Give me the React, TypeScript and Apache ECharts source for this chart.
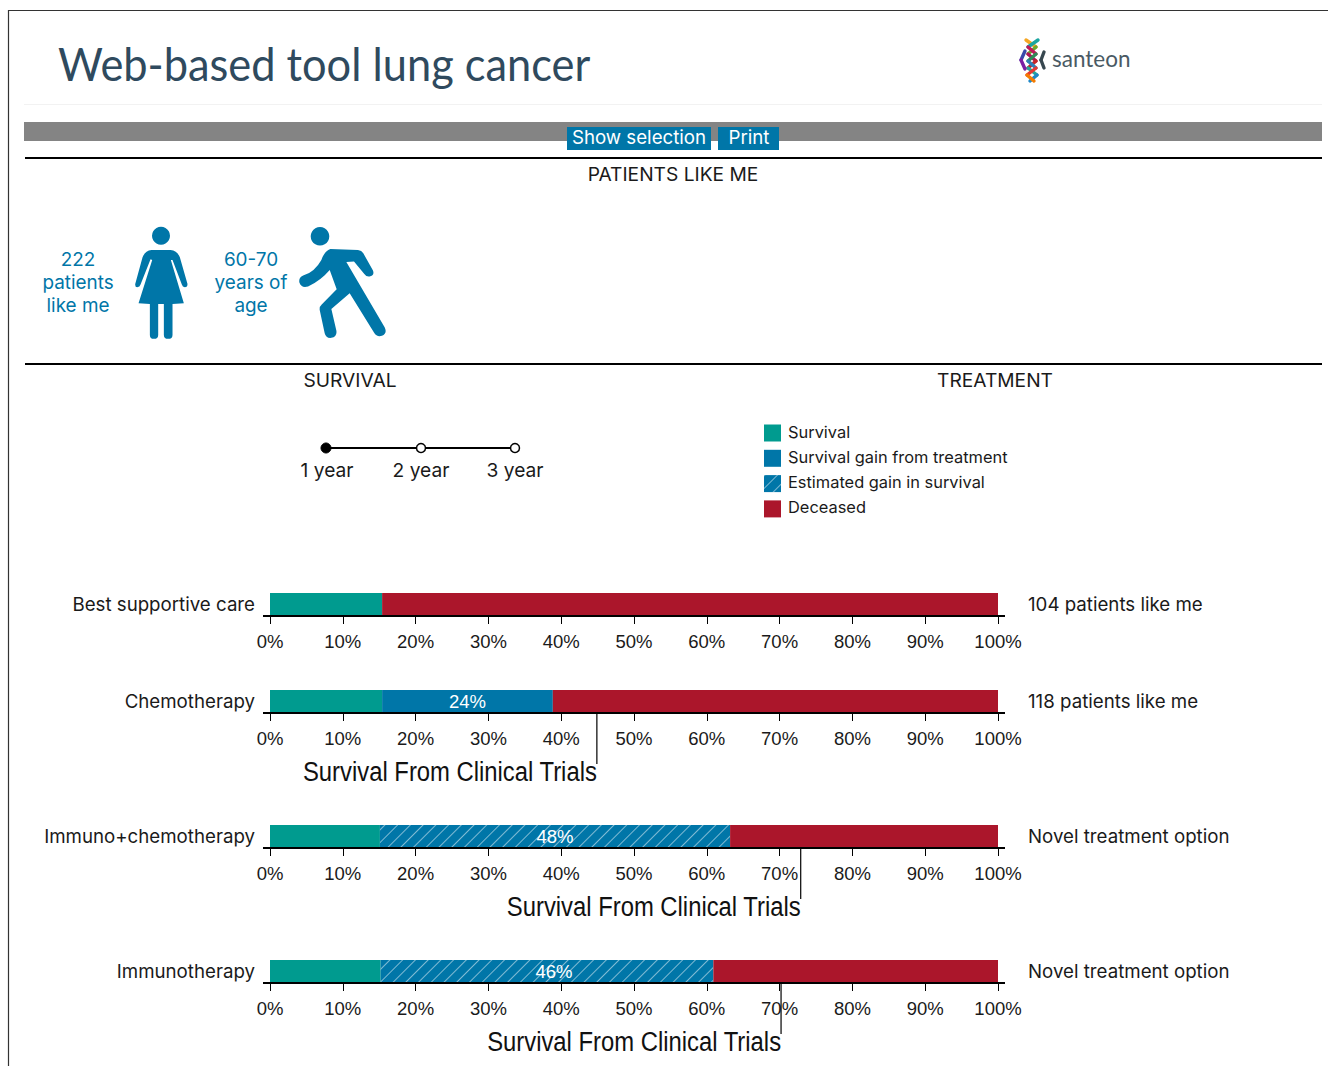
import React, { useEffect, useRef } from "react";
import * as echarts from "echarts";

const treatments = ["Best supportive care", "Chemotherapy", "Immuno+chemotherapy", "Immunotherapy"];
const notes = ["104 patients like me", "118 patients like me", "Novel treatment option", "Novel treatment option"];
const survival = [15.4, 15.4, 15.1, 15.2];
const gain = [0, 23.45, 0, 0];
const estimatedGain = [0, 0, 48.1, 45.7];
const deceased = [84.6, 61.15, 36.8, 39.1];
const gainLabels = ["", "24%", "48%", "46%"];
const clinicalTrial: (number | null)[] = [null, 44.9, 72.9, 70.2];
const tickLabelSuffix = "%";
const seriesNames = ["Survival", "Survival gain from treatment", "Estimated gain in survival", "Deceased"];
const yearLabels = ["1 year", "2 year", "3 year"];
const patientsText = ["222", "patients", "like me"];
const ageText = ["60-70", "years of", "age"];

const gridTops = [593, 690, 825, 960];
const TEAL = "#009b8f";
const BLUE = "#0076a8";
const RED = "#ab162b";
const FONT = '"Inter"';
const INK = "#1a1a1a";

const womanPath =
  "M395 120 L452 120 Q472 122 480 142 L503 222 Q503 232 495 232 Q488 232 486 224 L458 150 L453 150 L492 280 L458 282 L458 375 Q458 387 445 387 Q432 387 432 375 L432 282 L415 282 L415 375 Q415 387 402 387 Q390 387 390 375 L390 282 L356 280 L397 150 L392 148 L362 224 Q360 232 352 232 Q345 232 346 222 L368 142 Q376 122 395 120 Z";
const runnerPath =
  "M932 117 L1015 120 Q1026 121 1031 130 L1060 182 Q1065 195 1052 199 Q1041 202 1034 192 L1003 155 L980 156 L1095 352 Q1104 370 1087 378 Q1072 383 1063 368 L990 250 L935 297 L950 362 Q953 380 935 384 Q919 386 915 370 L900 300 Q899 290 906 284 L951 238 L930 180 Q905 210 865 230 Q845 236 839 218 Q836 202 852 196 Q885 186 905 150 Q915 122 932 117 Z";

echarts.graphic.registerShape("woman", echarts.graphic.extendPath(womanPath, {}) as any);
echarts.graphic.registerShape("runner", echarts.graphic.extendPath(runnerPath, {}) as any);

const logoStrokes: [number, number, number, number, string][] = [
  [1026, 40, 1036, 47, "#f5a623"], [1038, 40, 1028, 47, "#1aa5a0"],
  [1036, 47, 1028, 54, "#6aa82f"], [1028, 47, 1036, 54, "#c2185b"],
  [1028, 54, 1036, 61, "#b0135c"], [1036, 54, 1028, 61, "#2e8b57"],
  [1036, 61, 1028, 68, "#c62828"], [1028, 61, 1036, 68, "#2f7fb8"],
  [1028, 68, 1037, 75, "#26a69a"], [1036, 68, 1027, 75, "#e53935"],
  [1037, 75, 1030, 81, "#1e88c8"], [1027, 75, 1034, 81, "#f57c00"],
  [1025, 51, 1021, 60, "#3949ab"], [1021, 60, 1025, 69, "#7b1fa2"],
  [1044, 52, 1041, 60, "#37474f"], [1041, 60, 1044, 68, "#37474f"],
];

function textLines(lines: string[], cx: number, ys: number[]) {
  return lines.map((t, i) => ({
    type: "text", x: cx, y: ys[i],
    style: { text: t, fill: BLUE, font: `18.9px ${FONT}`, align: "center", verticalAlign: "middle" },
  }));
}
function plainText(text: string, x: number, y: number) {
  return {
    type: "text", x, y,
    style: { text, fill: INK, font: `19.2px ${FONT}`, align: "center", verticalAlign: "middle" },
  };
}
const hr = (x1: number, y1: number, x2: number, y2: number, stroke = "#000", lineWidth = 2) => ({
  type: "line", shape: { x1, y1, x2, y2 }, style: { stroke, lineWidth },
});

const richLabel = { a: { fontFamily: "Inter", fontSize: 18.7, color: INK, padding: [0, 0, 1, 0] } };

function buildOption() {
  const grid: any[] = [];
  const xAxis: any[] = [];
  const yAxis: any[] = [];
  const series: any[] = [];

  treatments.forEach((name, i) => {
    grid.push({ left: 270, width: 728, top: gridTops[i], height: 23 });
    xAxis.push({
      gridIndex: i, type: "value", min: 0, max: 100, interval: 10,
      axisLine: { show: false }, splitLine: { show: false },
      axisTick: { show: true, length: 8, lineStyle: { color: "#000", width: 1 } },
      axisLabel: { fontFamily: "Liberation Sans", fontSize: 18.5, color: INK, margin: 15.5, formatter: `{value}${tickLabelSuffix}`, hideOverlap: false, showMinLabel: true, showMaxLabel: true },
    });
    yAxis.push({
      gridIndex: i, type: "category", data: [name], position: "left",
      axisLine: { show: false }, axisTick: { show: false },
      axisLabel: { margin: 15, formatter: "{a|{value}}", rich: richLabel },
    });
    yAxis.push({
      gridIndex: i, type: "category", data: [notes[i]], position: "right",
      axisLine: { show: false }, axisTick: { show: false },
      axisLabel: { margin: 30, formatter: "{a|{value}}", rich: richLabel },
    });
    const yIdx = i * 2;
    const common = { type: "bar", xAxisIndex: i, yAxisIndex: yIdx, stack: `row${i}`, barWidth: "100%", silent: true };
    series.push({ ...common, name: seriesNames[0], itemStyle: { color: TEAL }, data: [survival[i]] });
    series.push({
      ...common, name: seriesNames[1], itemStyle: { color: BLUE }, data: [gain[i]],
      label: { show: gain[i] > 0, position: "inside", formatter: gainLabels[i], color: "#fff", fontFamily: "Liberation Sans", fontSize: 18.5 },
    });
    series.push({
      ...common, name: seriesNames[2],
      itemStyle: {
        color: BLUE,
        decal: { symbol: "rect", symbolSize: 1, color: "rgba(255,255,255,0.5)", dashArrayX: [1, 0], dashArrayY: [1, 8], rotation: -Math.PI / 4 },
      },
      data: [estimatedGain[i]],
      label: { show: estimatedGain[i] > 0, position: "inside", formatter: gainLabels[i], color: "#fff", fontFamily: "Liberation Sans", fontSize: 18.5, offset: i === 3 ? [7, 0] : [0, 0] },
    });
    series.push({ ...common, name: seriesNames[3], itemStyle: { color: RED }, data: [deceased[i]] });

    const trial = clinicalTrial[i];
    series.push({
      type: "custom", xAxisIndex: i, yAxisIndex: yIdx, silent: true, z: 5,
      data: [[trial ?? 0, 0]],
      renderItem: (params: any, api: any) => {
        const cs = params.coordSys;
        const base = cs.y + cs.height;
        const children: any[] = [
          { type: "line", shape: { x1: cs.x - 7, y1: base, x2: cs.x + cs.width + 7, y2: base }, style: { stroke: "#000", lineWidth: 2 } },
        ];
        if (trial != null) {
          const x = api.coord([trial, 0])[0];
          children.push({ type: "line", shape: { x1: x, y1: base, x2: x, y2: base + 51 }, style: { stroke: "#000", lineWidth: 1.2 } });
          children.push({
            type: "text", x, y: base + 58, scaleX: 0.883,
            style: { text: "Survival From Clinical Trials", fill: "#111", font: '27px "Liberation Sans"', align: "right", verticalAlign: "middle" },
          });
        }
        return { type: "group", children };
      },
    });
  });

  const graphic: any[] = [
    hr(8.5, 10, 8.5, 1066, "#333", 1.2),
    hr(8, 10.5, 1328, 10.5, "#333", 1.2),
    hr(24, 104.5, 1322, 104.5, "#f2f2f2", 1),
    { type: "rect", shape: { x: 24, y: 122, width: 1298, height: 19 }, style: { fill: "#848484" } },
    { type: "rect", shape: { x: 567, y: 127, width: 144, height: 23 }, style: { fill: BLUE } },
    { type: "rect", shape: { x: 718, y: 127, width: 61, height: 23 }, style: { fill: BLUE } },
    { type: "text", x: 639, y: 137, style: { text: "Show selection", fill: "#fff", font: `18.7px ${FONT}`, align: "center", verticalAlign: "middle" } },
    { type: "text", x: 749, y: 137, style: { text: "Print", fill: "#fff", font: `18.7px ${FONT}`, align: "center", verticalAlign: "middle" } },
    hr(25, 158, 1322, 158),
    hr(25, 364, 1322, 364),
    plainText("PATIENTS LIKE ME", 673, 174),
    plainText("SURVIVAL", 350, 380),
    plainText("TREATMENT", 995, 380),
    { type: "text", x: 58, y: 64, scaleX: 0.943, style: { text: "Web-based tool lung cancer", fill: "#2f4a5e", font: `46px "Lato"`, align: "left", verticalAlign: "middle" } },
    { type: "text", x: 1052, y: 58, style: { text: "santeon", fill: "#4a5a64", font: `22.5px "Lato"`, align: "left", verticalAlign: "middle" } },
    ...logoStrokes.map(([x1, y1, x2, y2, stroke]) => ({
      type: "line", shape: { x1, y1, x2, y2 }, style: { stroke, lineWidth: 3.4, lineCap: "round" },
    })),
    ...textLines(patientsText, 78, [259.5, 282, 305]),
    ...textLines(ageText, 251, [259.5, 282, 305]),
    { type: "circle", shape: { cx: 161, cy: 235.7, r: 9 }, style: { fill: BLUE } },
    { type: "woman", x: 20, y: 210, scaleX: 1 / 3, scaleY: 1 / 3, style: { fill: BLUE } },
    { type: "circle", shape: { cx: 320, cy: 236.3, r: 9.3 }, style: { fill: BLUE } },
    { type: "runner", x: 20, y: 210, scaleX: 1 / 3, scaleY: 1 / 3, style: { fill: BLUE } },
    hr(326, 448, 515, 448, "#000", 2),
    { type: "circle", shape: { cx: 326, cy: 448, r: 5 }, style: { fill: "#000", stroke: "#000", lineWidth: 1 } },
    { type: "circle", shape: { cx: 421, cy: 448, r: 4.5 }, style: { fill: "#fff", stroke: "#000", lineWidth: 1.5 } },
    { type: "circle", shape: { cx: 515, cy: 448, r: 4.5 }, style: { fill: "#fff", stroke: "#000", lineWidth: 1.5 } },
    ...yearLabels.map((t, i) => plainText(t, [327, 421, 515][i], 470)),
  ];

  return {
    animation: false,
    backgroundColor: "#fff",
    grid, xAxis, yAxis, series, graphic,
    legend: {
      show: true, data: seriesNames, orient: "vertical", left: 764, top: 423.5,
      itemWidth: 17, itemHeight: 17, itemGap: 7.3, padding: 0, selectedMode: false,
      icon: "rect",
      formatter: "{a|{name}}",
      textStyle: { rich: { a: { fontFamily: "Inter", fontSize: 16.4, color: INK, padding: [0, 0, 3, 2] } } },
    },
  };
}

export default function App() {
  const ref = useRef<HTMLDivElement>(null);
  useEffect(() => {
    const chart = echarts.init(ref.current!, undefined, { renderer: "svg" });
    chart.setOption(buildOption() as any);
    return () => chart.dispose();
  }, []);
  return <div ref={ref} style={{ position: "absolute", left: 0, top: 0, width: 1328, height: 1066 }} />;
}
